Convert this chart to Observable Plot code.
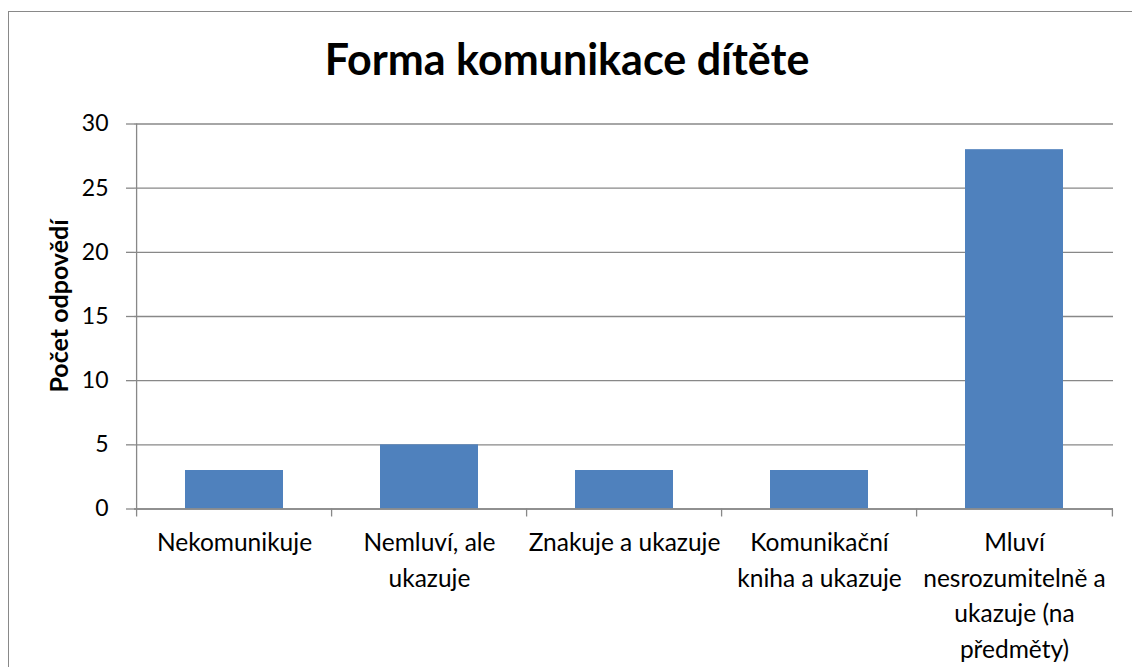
<!DOCTYPE html>
<html><head><meta charset="utf-8">
<script src="https://cdn.jsdelivr.net/npm/d3@7"></script>
<script src="https://cdn.jsdelivr.net/npm/@observablehq/plot@0.6"></script>
<style>
html,body{margin:0;padding:0;background:#fff;overflow:hidden}
#wrap{position:relative;width:1132px;height:667px;font-family:Lato, sans-serif;overflow:hidden}
#border{position:absolute;left:8px;top:11px;width:1200px;height:800px;border:1px solid #898989;box-sizing:border-box}
#title{position:absolute;left:0;top:35px;width:1134px;text-align:center;font-size:43px;font-weight:bold;line-height:48px;color:#000}
#chart{position:absolute;left:0;top:100px}
</style></head>
<body><div id="wrap"><div id="border"></div><div id="title"></div><div id="chart"></div></div>
<script>
const title = "Forma komunikace dítěte";
const categories = ["Nekomunikuje", "Nemluví, ale ukazuje", "Znakuje a ukazuje", "Komunikační kniha a ukazuje", "Mluví nesrozumitelně a ukazuje (na předměty)"];
const tickLabels = ["Nekomunikuje", "Nemluví, ale\nukazuje", "Znakuje a ukazuje", "Komunikační\nkniha a ukazuje", "Mluví\nnesrozumitelně a\nukazuje (na\npředměty)"];
const values = [3, 5, 3, 3, 28];
const yTicks = [0, 5, 10, 15, 20, 25, 30];
const yLabel = "Počet odpovědí";

document.getElementById("title").textContent = title;

const W = 1132, H = 567, mL = 134, mR = 19, mT = 23.5, mB = 158.5;
const step = (W - mL - mR) / categories.length;
const data = categories.map((c, i) => ({c, v: values[i]}));
const gray = "#888888";

const plot = Plot.plot({
  width: W, height: H,
  marginLeft: mL, marginRight: mR, marginTop: mT, marginBottom: mB,
  style: {fontFamily: "Lato, sans-serif", fontSize: "24px", color: "#000", background: "transparent", overflow: "visible"},
  x: {domain: categories, paddingInner: 0.5, paddingOuter: 0.25},
  y: {domain: [0, 30]},
  marks: [
    Plot.gridY(yTicks, {stroke: gray, strokeOpacity: 1, strokeWidth: 1.3}),
    Plot.axisY(yTicks, {tickSize: 8, tickPadding: 18, stroke: gray, strokeWidth: 1.3, fill: "#000", fontSize: 23, label: null}),
    Plot.barY(data, {x: "c", y: "v", fill: "#4F81BD"}),
    Plot.ruleY([0], {stroke: gray, strokeWidth: 1.3}),
    Plot.ruleX([categories[0]], {dx: -step / 2, y1: 0, y2: 30, stroke: gray, strokeWidth: 1.3}),
    Plot.axisX(categories, {tickSize: 8, tickFormat: () => "", dx: -step / 2, stroke: gray, strokeWidth: 1.3, label: null}),
    Plot.axisX([categories[categories.length - 1]], {tickSize: 8, tickFormat: () => "", dx: step / 2, stroke: gray, strokeWidth: 1.3, label: null}),
    Plot.axisX(categories, {tickSize: 0, tickPadding: 17, tickFormat: (d) => tickLabels[categories.indexOf(d)], lineHeight: 1.45, fontSize: 24.5, fill: "#000", label: null}),
    Plot.text([yLabel], {frameAnchor: "left", textAnchor: "middle", rotate: -90, dx: -75, dy: -10.5, fontWeight: "bold", fontSize: 25, fill: "#000"})
  ]
});
document.getElementById("chart").appendChild(plot);
</script>
</body></html>
